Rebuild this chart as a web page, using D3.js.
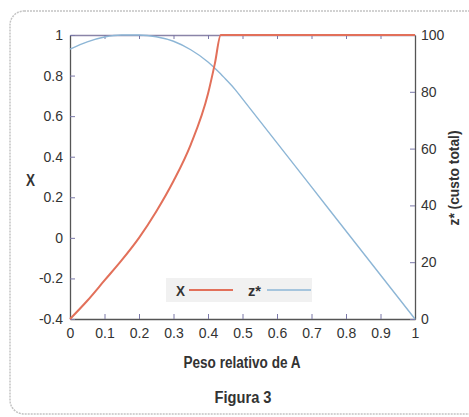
<!DOCTYPE html>
<html>
<head>
<meta charset="utf-8">
<script src="https://cdn.jsdelivr.net/npm/d3@7"></script>
<style>
  body { margin: 0; background: #fff; }
  text { font-family: "Liberation Sans", Arial, sans-serif; fill: #333; }
</style>
</head>
<body>
<div id="chart"></div>
<script>
(function() {
  var width = 469,
      height = 417;

  // peso relativo de A
  var pesoA = [0, 0.05, 0.1, 0.15, 0.2, 0.25, 0.3, 0.35, 0.4, 0.42, 0.437, 0.45, 0.48, 0.5, 0.6, 0.7, 0.8, 0.9, 1];
  // X (eixo esquerdo)
  var xVals = [-0.4, -0.31, -0.21, -0.11, 0.0, 0.13, 0.28, 0.46, 0.71, 0.86, 1, 1, 1, 1, 1, 1, 1, 1, 1];
  // z* custo total (eixo direito)
  var zVals = [95, 97.6, 99.3, 100, 100, 99.4, 97.8, 94.8, 90.5, 88.3, 86.3, 84.6, 80.6, 77.5, 62, 46.5, 31, 15.5, 0];

  var xTicks = [0, 0.1, 0.2, 0.3, 0.4, 0.5, 0.6, 0.7, 0.8, 0.9, 1];
  var yLeftTicks = [-0.4, -0.2, 0, 0.2, 0.4, 0.6, 0.8, 1];
  var yRightTicks = [0, 20, 40, 60, 80, 100];

  var margin = {left: 70, right: 54, top: 35, bottom: 98};
  var pw = width - margin.left - margin.right,
      ph = height - margin.top - margin.bottom;

  var svg = d3.select('#chart')
    .append("svg")
    .attr("width", width)
    .attr("height", height)

  // moldura arredondada
  svg.append("rect")
    .attr("x", 10).attr("y", 11)
    .attr("width", 480).attr("height", 403)
    .attr("rx", 14)
    .attr("fill", "none")
    .attr("stroke", "#c4c4c4")
    .attr("stroke-width", 1.5)
    .attr("stroke-dasharray", "2,1")

  var g = svg.append("g")
    .attr("transform", "translate(" + margin.left + "," + margin.top + ")")

  var x = d3.scaleLinear().domain([0, 1]).range([0, pw])
  var yL = d3.scaleLinear().domain([-0.4, 1]).range([ph, 0])
  var yR = d3.scaleLinear().domain([0, 100]).range([ph, 0])

  var fmt = function(d) { return String(+d.toFixed(1)) }

  var axisColor = "#555";

  var bottom = g.append("g")
    .attr("transform", "translate(0," + ph + ")")
    .call(d3.axisBottom(x).tickValues(xTicks).tickFormat(fmt).tickSizeInner(-5).tickSizeOuter(0).tickPadding(9))
  var top = g.append("g")
    .call(d3.axisTop(x).tickValues(xTicks.slice(1, -1)).tickFormat("").tickSizeInner(-4).tickSizeOuter(0))
  var left = g.append("g")
    .call(d3.axisLeft(yL).tickValues(yLeftTicks).tickFormat(fmt).tickSizeInner(-5).tickSizeOuter(0).tickPadding(7))
  var right = g.append("g")
    .attr("transform", "translate(" + pw + ",0)")
    .call(d3.axisRight(yR).tickValues(yRightTicks).tickSizeInner(-5).tickSizeOuter(0).tickPadding(6))

  g.selectAll(".domain").attr("stroke", axisColor).attr("stroke-width", 1.3)
  g.selectAll(".tick line").attr("stroke", "#7a78a8")
  g.selectAll(".tick text")
    .style("font-size", "14px")
    .attr("fill", "#333")
  top.select(".domain").attr("stroke", "#8a84a8")

  var lineX = d3.line()
    .x(function(d, i) { return x(pesoA[i]) })
    .y(function(d) { return yL(d) })
    .curve(d3.curveMonotoneX)
  var lineZ = d3.line()
    .x(function(d, i) { return x(pesoA[i]) })
    .y(function(d) { return yR(d) })
    .curve(d3.curveMonotoneX)

  g.append("path")
    .datum(zVals)
    .attr("d", lineZ)
    .attr("fill", "none")
    .attr("stroke", "#8db6d6")
    .attr("stroke-width", 1.4)

  g.append("path")
    .datum(xVals)
    .attr("d", lineX)
    .attr("fill", "none")
    .attr("stroke", "#e2705a")
    .attr("stroke-width", 2)

  // legenda
  var leg = svg.append("g").attr("transform", "translate(166,278)")
  leg.append("rect")
    .attr("width", 146).attr("height", 24)
    .attr("fill", "#f1f1f1")
  leg.append("text").attr("x", 10).attr("y", 18)
    .attr("textLength", 9).attr("lengthAdjust", "spacingAndGlyphs")
    .style("font-size", "15px").style("font-weight", "bold").text("X")
  leg.append("line").attr("x1", 23).attr("x2", 67).attr("y1", 12).attr("y2", 12)
    .attr("stroke", "#e2705a").attr("stroke-width", 2)
  leg.append("text").attr("x", 82).attr("y", 18)
    .attr("textLength", 13).attr("lengthAdjust", "spacingAndGlyphs")
    .style("font-size", "15px").style("font-weight", "bold").text("z*")
  leg.append("line").attr("x1", 101).attr("x2", 145).attr("y1", 12).attr("y2", 12)
    .attr("stroke", "#8db6d6").attr("stroke-width", 1.4)

  // títulos dos eixos
  svg.append("text")
    .attr("x", 26).attr("y", 186)
    .attr("textLength", 9).attr("lengthAdjust", "spacingAndGlyphs")
    .style("font-size", "16px")
    .style("font-weight", "bold")
    .text("X")

  svg.append("text")
    .attr("transform", "translate(459,178) rotate(-90)")
    .attr("text-anchor", "middle")
    .attr("textLength", 95).attr("lengthAdjust", "spacingAndGlyphs")
    .style("font-size", "15px")
    .style("font-weight", "bold")
    .text("z* (custo total)")

  svg.append("text")
    .attr("x", 242).attr("y", 368)
    .attr("text-anchor", "middle")
    .attr("textLength", 117).attr("lengthAdjust", "spacingAndGlyphs")
    .style("font-size", "16px")
    .style("font-weight", "bold")
    .text("Peso relativo de A")

  svg.append("text")
    .attr("x", 243).attr("y", 403)
    .attr("text-anchor", "middle")
    .attr("textLength", 57).attr("lengthAdjust", "spacingAndGlyphs")
    .style("font-size", "16px")
    .style("font-weight", "bold")
    .text("Figura 3")
})();
</script>
</body>
</html>
